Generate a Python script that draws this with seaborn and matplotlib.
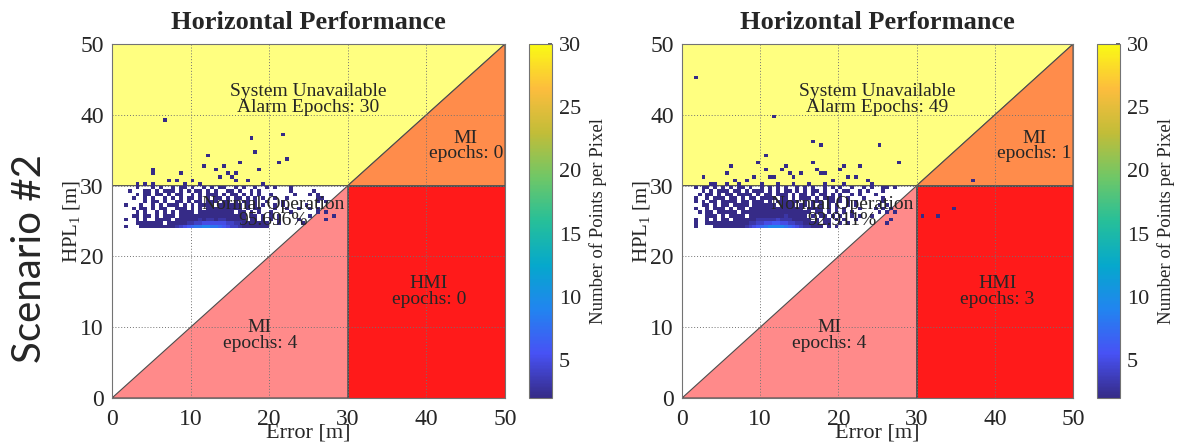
import numpy as np
import matplotlib
matplotlib.use("Agg")
import matplotlib.pyplot as plt
from matplotlib.colors import LinearSegmentedColormap
from matplotlib.patches import Polygon
import seaborn as sns

sns.set_theme(style="white")
plt.rcParams["font.family"] = ["Liberation Serif", "DejaVu Serif"]
plt.rcParams["mathtext.fontset"] = "custom"
plt.rcParams["mathtext.rm"] = "Liberation Serif"

# ---- values ----
scenario = "Scenario #2"
title = "Horizontal Performance"
normal_pct = ["95.696%", "92.911%"]
alarm_epochs = [30, 49]
mi_upper_epochs = [0, 1]
hmi_epochs = [0, 3]
mi_lower_epochs = [4, 4]

# points per 0.5 m pixel in the normal-operation band
# row 0 = HPL 29.5-30 m, each next row 0.5 m lower; column j = error 0.5*j m
left_rows = [
    "......1...1.1..1.11.1..1.1.11..1.1..1..1.1...1..............",
    "....1...11.1.111.1.1.11.1.1..11.1..1.1.......1.....1........",
    "......1.11.11.1.11..1.1.111.1.11.1.1.1..1.....1...1.1.......",
    ".....1..1.1..1.1.1.11.1.1.11.1.11.1.1.1..1..1.......11......",
    "........1.11.1..11.1.11.111.11.1.11.1..1...1........1.1.....",
    "...1...1..1.1.111.1.1.1111.111111.1.1.1..1.1.....1..........",
    ".....1.11.1.11..111.1.1.111111111.1.11...1..1..1..1.1.......",
    "......1.1..1.1.1.1112.122121121.11.1.1..1....1......1.1.....",
    ".....11.11.1.111.12121222122212112.11.1.1.1.......1.....1...",
    "...1..1.1..1111.112222323323322211.11.1.1.1....1......1.....",
    "......1111111.11122334455555544332111111..1.....1...........",
    "...1...111112222345678899887654432211111....................",
]
# single points outside that band (alarm epochs etc.)
left_extra_x = [6.6, 5.2, 5.2, 8.7, 12.2, 11.7, 13.2, 14.2, 14.8, 7.2, 8.2, 10.2,
                3.2, 9.2, 11.2, 13.8, 15.3, 15.7, 21.7, 17.7, 18.3, 22.2, 21.2,
                16.3, 18.7, 15.7, 17.3, 19.2, 4.2, 5.2]
left_extra_y = [39.2, 32.4, 31.9, 31.7, 34.2, 32.6, 32.2, 32.7, 31.7, 30.7, 30.7, 30.7,
                30.2, 30.2, 30.2, 31.0, 31.3, 30.7, 37.2, 36.8, 34.7, 33.7, 33.2,
                33.2, 32.2, 31.6, 30.7, 30.2, 30.2, 30.2]

right_rows = [
    "...1.11.1.1.1.11.1..1.1.1.1..1.1.1..1.1.1..1..1.1..11.1.....",
    ".....1.1.111.11.1.111.1.1.11.1.1.11.1..1.11..1.1...1........",
    "....1.11.1.11.1111.1.11.111.1.11.1.11.1.1..1.1...1..........",
    "...1..1.111.11.1.11.1111.11.1.111.1.111.1.1...1....1........",
    "...1.1.11.1111.11.111.1.111111.1.111.11.1.1.1......1........",
    ".....11.1.11.1111.111111.1111.11.1.1.1.1..1.1.....1.1.......",
    "...1..1.111.1.11.11112121112121.1111.1.1.1...1...1.1.1......",
    "....1.11.11111.111121222212122111.11.1.1.1.1......1.1.1.....",
    "......111.1.1111.122222222322211.1.11.1.1..1.1..1...........",
    "...1..1.1.11.11122233333433322111.1.11.1.1..1........1......",
    "...1..11111111122334455665544332111.11..1.1.........1.......",
    "...1....1111122234567899998765433211.1.1....................",
]
right_extra_x = [1.6, 11.6, 10.6, 9.6, 6.1, 5.5, 2.6, 10.9, 12.7, 13.0, 13.7, 15.1,
                 8.1, 9.2, 11.5, 6.6, 3.8, 16.6, 17.6, 25.2, 27.7, 16.6, 17.0, 17.9,
                 18.4, 20.2, 20.8, 22.5, 21.2, 22.2, 23.6, 19.1, 4.3, 5.8, 7.3, 10.2,
                 12.4, 14.3, 16.1, 18.2, 20.6, 24.2, 11.2, 14.2, 30.7, 32.7, 34.7, 37.2]
right_extra_y = [45.2, 39.7, 34.2, 33.2, 32.7, 31.6, 31.2, 32.2, 32.2, 32.8, 31.5, 31.5,
                 30.7, 31.0, 31.0, 30.7, 30.2, 36.2, 35.7, 35.7, 33.2, 33.1, 32.2, 31.7,
                 31.7, 32.2, 32.7, 32.7, 31.2, 31.2, 30.7, 30.7, 30.2, 30.2, 30.2, 30.2,
                 30.2, 30.2, 30.2, 30.2, 30.2, 30.2, 31.2, 31.2, 25.7, 25.7, 26.6, 30.6]

# approximate MATLAB parula
parula = LinearSegmentedColormap.from_list("parula", [
    (0.21, 0.17, 0.53), (0.28, 0.32, 0.96), (0.13, 0.52, 0.94), (0.02, 0.66, 0.80),
    (0.15, 0.75, 0.60), (0.44, 0.78, 0.40), (0.76, 0.74, 0.22), (0.99, 0.74, 0.24),
    (0.98, 0.98, 0.08)])


def to_points(rows, extra_x, extra_y):
    xs, ys, ws = [], [], []
    for i, row in enumerate(rows):
        for j, ch in enumerate(row):
            if ch != ".":
                xs.append(0.25 + 0.5 * j)
                ys.append(29.75 - 0.5 * i)
                ws.append(int(ch, 36))
    xs += extra_x
    ys += extra_y
    ws += [1] * len(extra_x)
    return np.array(xs), np.array(ys), np.array(ws)


def draw_panel(ax, cax, rows, extra_x, extra_y, k):
    # regions
    ax.add_patch(Polygon([(0, 30), (30, 30), (50, 50), (0, 50)], closed=True,
                         fc="#FFFF80", ec="0.3", lw=0.8, zorder=1))
    ax.add_patch(Polygon([(30, 30), (50, 50), (50, 30)], closed=True,
                         fc="#FF8C4B", ec="0.3", lw=0.8, zorder=1))
    ax.add_patch(Polygon([(30, 0), (50, 0), (50, 30), (30, 30)], closed=True,
                         fc="#FF1A1A", ec="0.3", lw=0.8, zorder=1))
    ax.add_patch(Polygon([(0, 0), (30, 30), (30, 0)], closed=True,
                         fc="#FF8A8A", ec="0.3", lw=0.8, zorder=1))

    x, y, w = to_points(rows, extra_x, extra_y)
    sns.histplot(x=x, y=y, weights=w, binwidth=0.5, binrange=((0, 50), (0, 50)),
                 cmap=parula, vmin=2, vmax=30, ax=ax, zorder=2,
                 cbar=True, cbar_ax=cax)

    for g in [10, 20, 30, 40]:
        ax.axvline(g, color="0.45", lw=0.7, ls=(0, (1, 2)), zorder=1.5)
        ax.axhline(g, color="0.45", lw=0.7, ls=(0, (1, 2)), zorder=1.5)

    tk = dict(ha="center", va="center", fontsize=14, zorder=3, linespacing=0.92)
    ax.text(25, 42.2, f"System Unavailable\nAlarm Epochs: {alarm_epochs[k]}", **tk)
    ax.text(45, 35.6, f"MI\nepochs: {mi_upper_epochs[k]}", **tk)
    ax.text(20.5, 26.2, f"Normal Operation\n{normal_pct[k]}", **tk)
    ax.text(40.3, 15, f"HMI\nepochs: {hmi_epochs[k]}", **tk)
    ax.text(18.8, 8.8, f"MI\nepochs: {mi_lower_epochs[k]}", **tk)

    ax.set_xlim(0, 50)
    ax.set_ylim(0, 50)
    ax.set_xticks(range(0, 51, 10))
    ax.set_yticks(range(0, 51, 10))
    ax.tick_params(direction="in", length=3, color="0.3", labelsize=17,
                   labelcolor="0.15")
    ax.tick_params(axis="x", pad=8)
    ax.tick_params(axis="y", pad=6)
    for s in ax.spines.values():
        s.set_color("0.45")
        s.set_linewidth(0.8)
    ax.set_title(title, fontsize=19, fontweight="bold", pad=11)
    ax.set_xlabel("Error [m]", fontsize=16, labelpad=-5)
    ax.set_ylabel("HPL$_{\\mathregular{1}}$ [m]", fontsize=15, labelpad=-2)

    cax.set_yticks([5, 10, 15, 20, 25, 30])
    cax.tick_params(direction="in", length=3, color="0.3", labelsize=16,
                    labelcolor="0.15", right=True, pad=5)
    cax.set_ylabel("Number of Points per Pixel", fontsize=13.5, labelpad=6)
    for s in cax.spines.values():
        s.set_color("0.45")
        s.set_linewidth(0.8)


fig = plt.figure(figsize=(11.81, 4.48), dpi=100)
ax1 = fig.add_axes([0.0948, 0.1116, 0.3328, 0.790])
cax1 = fig.add_axes([0.4479, 0.1116, 0.0195, 0.790])
ax2 = fig.add_axes([0.5775, 0.1116, 0.3311, 0.790])
cax2 = fig.add_axes([0.9289, 0.1116, 0.0195, 0.790])

draw_panel(ax1, cax1, left_rows, left_extra_x, left_extra_y, 0)
draw_panel(ax2, cax2, right_rows, right_extra_x, right_extra_y, 1)

fig.text(0.025, 0.424, scenario, rotation=90, ha="center", va="center",
         fontsize=29, family=["Lato", "DejaVu Sans"])

fig.savefig("out.png", dpi=100)
